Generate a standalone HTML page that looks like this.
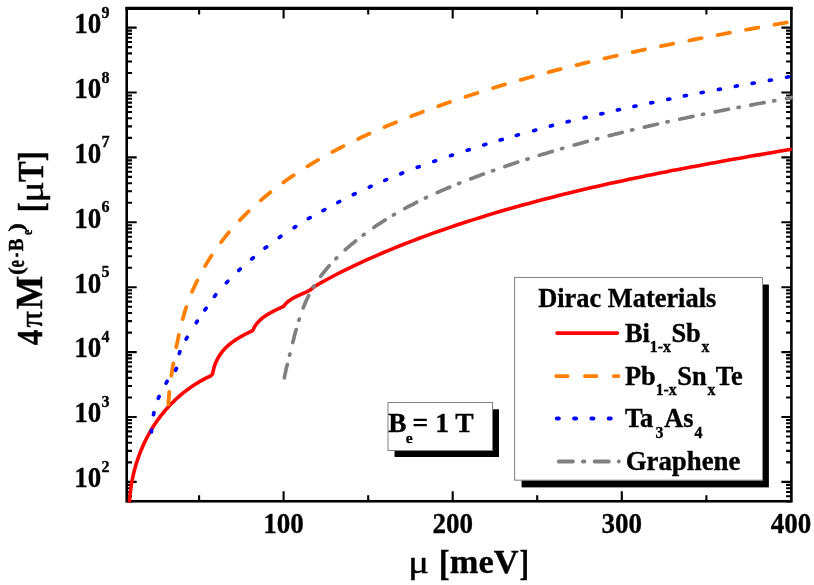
<!DOCTYPE html>
<html><head><meta charset="utf-8"><title>Dirac Materials magnetization</title>
<style>
html,body{margin:0;padding:0;background:#fff;}
body{width:814px;height:585px;overflow:hidden;font-family:"Liberation Serif",serif;}
svg{display:block;}
text{font-family:"Liberation Serif",serif;font-weight:bold;fill:#000;stroke:#000;stroke-width:0.35px;}
.tk{font-size:29.4px;}
.sup{font-size:16.7px;}
.lg{font-size:26.4px;}
.sb{font-size:15.8px;}
.ax{font-size:34px;}
.mu{font-weight:normal;}
</style></head><body>
<svg width="814" height="585" viewBox="0 0 814 585">
<rect width="814" height="585" fill="#fff"/>
<g opacity="0.999">
<!-- frame -->
<rect x="126.7" y="8.5" width="664.6999999999999" height="492.75" fill="none" stroke="#000" stroke-width="2.6"/>
<rect x="125.4" y="6.75" width="667.3" height="3.2" fill="#000"/>
<path d="M126.7 481.9L136.7 481.9 M791.4 481.9L781.4 481.9 M126.7 417.0L136.7 417.0 M791.4 417.0L781.4 417.0 M126.7 352.1L136.7 352.1 M791.4 352.1L781.4 352.1 M126.7 287.2L136.7 287.2 M791.4 287.2L781.4 287.2 M126.7 222.3L136.7 222.3 M791.4 222.3L781.4 222.3 M126.7 157.4L136.7 157.4 M791.4 157.4L781.4 157.4 M126.7 92.5L136.7 92.5 M791.4 92.5L781.4 92.5 M126.7 27.6L136.7 27.6 M791.4 27.6L781.4 27.6 M126.7 501.4L132.0 501.4 M791.4 501.4L786.1 501.4 M126.7 496.3L132.0 496.3 M791.4 496.3L786.1 496.3 M126.7 492.0L132.0 492.0 M791.4 492.0L786.1 492.0 M126.7 488.2L132.0 488.2 M791.4 488.2L786.1 488.2 M126.7 484.9L132.0 484.9 M791.4 484.9L786.1 484.9 M126.7 462.4L132.0 462.4 M791.4 462.4L786.1 462.4 M126.7 450.9L132.0 450.9 M791.4 450.9L786.1 450.9 M126.7 442.8L132.0 442.8 M791.4 442.8L786.1 442.8 M126.7 436.5L132.0 436.5 M791.4 436.5L786.1 436.5 M126.7 431.4L132.0 431.4 M791.4 431.4L786.1 431.4 M126.7 427.1L132.0 427.1 M791.4 427.1L786.1 427.1 M126.7 423.3L132.0 423.3 M791.4 423.3L786.1 423.3 M126.7 420.0L132.0 420.0 M791.4 420.0L786.1 420.0 M126.7 397.5L132.0 397.5 M791.4 397.5L786.1 397.5 M126.7 386.0L132.0 386.0 M791.4 386.0L786.1 386.0 M126.7 377.9L132.0 377.9 M791.4 377.9L786.1 377.9 M126.7 371.6L132.0 371.6 M791.4 371.6L786.1 371.6 M126.7 366.5L132.0 366.5 M791.4 366.5L786.1 366.5 M126.7 362.2L132.0 362.2 M791.4 362.2L786.1 362.2 M126.7 358.4L132.0 358.4 M791.4 358.4L786.1 358.4 M126.7 355.1L132.0 355.1 M791.4 355.1L786.1 355.1 M126.7 332.6L132.0 332.6 M791.4 332.6L786.1 332.6 M126.7 321.1L132.0 321.1 M791.4 321.1L786.1 321.1 M126.7 313.0L132.0 313.0 M791.4 313.0L786.1 313.0 M126.7 306.7L132.0 306.7 M791.4 306.7L786.1 306.7 M126.7 301.6L132.0 301.6 M791.4 301.6L786.1 301.6 M126.7 297.3L132.0 297.3 M791.4 297.3L786.1 297.3 M126.7 293.5L132.0 293.5 M791.4 293.5L786.1 293.5 M126.7 290.2L132.0 290.2 M791.4 290.2L786.1 290.2 M126.7 267.7L132.0 267.7 M791.4 267.7L786.1 267.7 M126.7 256.2L132.0 256.2 M791.4 256.2L786.1 256.2 M126.7 248.1L132.0 248.1 M791.4 248.1L786.1 248.1 M126.7 241.8L132.0 241.8 M791.4 241.8L786.1 241.8 M126.7 236.7L132.0 236.7 M791.4 236.7L786.1 236.7 M126.7 232.4L132.0 232.4 M791.4 232.4L786.1 232.4 M126.7 228.6L132.0 228.6 M791.4 228.6L786.1 228.6 M126.7 225.3L132.0 225.3 M791.4 225.3L786.1 225.3 M126.7 202.8L132.0 202.8 M791.4 202.8L786.1 202.8 M126.7 191.3L132.0 191.3 M791.4 191.3L786.1 191.3 M126.7 183.2L132.0 183.2 M791.4 183.2L786.1 183.2 M126.7 176.9L132.0 176.9 M791.4 176.9L786.1 176.9 M126.7 171.8L132.0 171.8 M791.4 171.8L786.1 171.8 M126.7 167.5L132.0 167.5 M791.4 167.5L786.1 167.5 M126.7 163.7L132.0 163.7 M791.4 163.7L786.1 163.7 M126.7 160.4L132.0 160.4 M791.4 160.4L786.1 160.4 M126.7 137.9L132.0 137.9 M791.4 137.9L786.1 137.9 M126.7 126.4L132.0 126.4 M791.4 126.4L786.1 126.4 M126.7 118.3L132.0 118.3 M791.4 118.3L786.1 118.3 M126.7 112.0L132.0 112.0 M791.4 112.0L786.1 112.0 M126.7 106.9L132.0 106.9 M791.4 106.9L786.1 106.9 M126.7 102.6L132.0 102.6 M791.4 102.6L786.1 102.6 M126.7 98.8L132.0 98.8 M791.4 98.8L786.1 98.8 M126.7 95.5L132.0 95.5 M791.4 95.5L786.1 95.5 M126.7 73.0L132.0 73.0 M791.4 73.0L786.1 73.0 M126.7 61.5L132.0 61.5 M791.4 61.5L786.1 61.5 M126.7 53.4L132.0 53.4 M791.4 53.4L786.1 53.4 M126.7 47.1L132.0 47.1 M791.4 47.1L786.1 47.1 M126.7 42.0L132.0 42.0 M791.4 42.0L786.1 42.0 M126.7 37.7L132.0 37.7 M791.4 37.7L786.1 37.7 M126.7 33.9L132.0 33.9 M791.4 33.9L786.1 33.9 M126.7 30.6L132.0 30.6 M791.4 30.6L786.1 30.6 M126.7 8.1L132.0 8.1 M791.4 8.1L786.1 8.1 M283.6 501.2L283.6 491.2 M283.6 8.5L283.6 18.5 M452.7 501.2L452.7 491.2 M452.7 8.5L452.7 18.5 M621.8 501.2L621.8 491.2 M621.8 8.5L621.8 18.5 M199.1 501.2L199.1 495.3 M199.1 8.5L199.1 14.4 M368.2 501.2L368.2 495.3 M368.2 8.5L368.2 14.4 M537.2 501.2L537.2 495.3 M537.2 8.5L537.2 14.4 M706.4 501.2L706.4 495.3 M706.4 8.5L706.4 14.4" stroke="#000" stroke-width="2.1" fill="none"/>
<!-- curves -->
<g fill="none" stroke-linejoin="round">
<path d="M129.2 502.3 L129.6 500.4 L129.7 498.3 L129.9 496.3 L130.1 494.3 L130.3 492.3 L130.6 490.3 L130.8 488.2 L131.1 486.2 L131.4 484.2 L131.8 482.2 L132.2 480.2 L132.6 478.2 L133.0 476.2 L133.4 474.3 L133.9 472.3 L134.4 470.3 L134.9 468.4 L135.5 466.4 L136.0 464.5 L136.6 462.5 L137.3 460.6 L137.9 458.7 L138.6 456.8 L139.3 454.9 L140.0 453.0 L140.7 451.1 L141.5 449.2 L142.3 447.4 L143.1 445.5 L143.9 443.7 L144.8 441.9 L145.7 440.0 L146.6 438.2 L147.5 436.5 L148.5 434.7 L149.5 432.9 L150.5 431.2 L151.5 429.4 L152.5 427.7 L153.6 426.0 L154.7 424.3 L155.8 422.7 L157.0 421.0 L158.1 419.4 L159.3 417.8 L160.5 416.2 L161.8 414.6 L163.0 413.0 L164.3 411.5 L165.6 409.9 L166.9 408.4 L168.3 406.9 L169.6 405.5 L171.0 404.0 L172.4 402.6 L173.9 401.2 L175.3 399.8 L176.8 398.4 L178.3 397.1 L179.8 395.7 L181.4 394.4 L182.9 393.1 L184.5 391.9 L186.1 390.7 L187.7 389.4 L189.4 388.3 L191.0 387.1 L192.7 385.9 L194.4 384.8 L196.1 383.7 L197.9 382.7 L199.6 381.6 L201.4 380.6 L203.2 379.6 L205.0 378.7 L206.9 377.7 L208.7 376.8 L210.6 376.0 L212.0 374.6 L212.0 374.6 L212.5 374.0 L212.7 373.2 L212.8 372.4 L213.0 371.6 L213.2 370.7 L213.4 369.9 L213.6 369.2 L213.8 368.4 L214.0 367.6 L214.2 366.8 L214.5 366.0 L214.8 365.3 L215.0 364.5 L215.3 363.8 L215.6 363.0 L215.9 362.3 L216.2 361.6 L216.6 360.9 L216.9 360.1 L217.3 359.4 L217.6 358.7 L218.0 358.0 L218.4 357.4 L218.8 356.7 L219.2 356.0 L219.6 355.4 L220.0 354.7 L220.5 354.1 L220.9 353.4 L221.4 352.8 L221.9 352.2 L222.3 351.5 L222.8 350.9 L223.3 350.3 L223.9 349.8 L224.4 349.2 L224.9 348.6 L225.5 348.0 L226.0 347.5 L226.6 346.9 L227.2 346.4 L227.8 345.9 L228.3 345.3 L228.9 344.8 L229.6 344.3 L230.2 343.8 L230.8 343.3 L231.4 342.8 L232.1 342.3 L232.7 341.9 L233.4 341.4 L234.0 340.9 L234.7 340.5 L235.3 340.0 L236.0 339.6 L236.7 339.1 L237.4 338.7 L238.1 338.3 L238.8 337.9 L239.5 337.5 L240.2 337.0 L240.9 336.6 L241.6 336.2 L242.3 335.8 L243.0 335.5 L243.7 335.1 L244.4 334.7 L245.1 334.3 L245.8 333.9 L246.5 333.6 L247.2 333.2 L248.0 332.9 L248.7 332.5 L249.4 332.2 L250.1 331.8 L250.8 331.5 L251.5 331.1 L252.2 330.8 L252.9 330.4 L252.9 330.4 L253.0 329.9 L253.3 329.4 L253.5 329.0 L253.7 328.5 L253.9 328.0 L254.2 327.6 L254.4 327.1 L254.7 326.7 L254.9 326.3 L255.2 325.8 L255.5 325.4 L255.8 325.0 L256.1 324.6 L256.4 324.2 L256.7 323.8 L257.0 323.4 L257.3 323.0 L257.6 322.6 L257.9 322.3 L258.3 321.9 L258.6 321.5 L259.0 321.2 L259.3 320.8 L259.7 320.5 L260.0 320.1 L260.4 319.8 L260.8 319.4 L261.1 319.1 L261.5 318.8 L261.9 318.4 L262.3 318.1 L262.7 317.8 L263.1 317.5 L263.5 317.2 L263.9 316.9 L264.3 316.6 L264.7 316.3 L265.2 316.0 L265.6 315.7 L266.0 315.5 L266.4 315.2 L266.9 314.9 L267.3 314.6 L267.7 314.4 L268.2 314.1 L268.6 313.8 L269.1 313.6 L269.5 313.3 L270.0 313.1 L270.4 312.8 L270.9 312.6 L271.3 312.3 L271.8 312.1 L272.2 311.8 L272.7 311.6 L273.1 311.4 L273.6 311.1 L274.0 310.9 L274.5 310.7 L275.0 310.4 L275.4 310.2 L275.9 310.0 L276.3 309.8 L276.8 309.5 L277.3 309.3 L277.7 309.1 L278.2 308.9 L278.6 308.7 L279.1 308.5 L279.5 308.3 L280.0 308.1 L280.5 307.8 L280.9 307.6 L281.4 307.4 L281.8 307.2 L282.3 307.0 L282.7 306.8 L283.1 306.6 L283.6 306.4 L283.6 306.4 L283.8 306.1 L284.0 305.7 L284.3 305.4 L284.5 305.1 L284.8 304.8 L285.1 304.5 L285.3 304.2 L285.6 303.9 L285.9 303.6 L286.1 303.3 L286.4 303.1 L286.7 302.8 L287.0 302.5 L287.3 302.3 L287.6 302.0 L287.9 301.8 L288.2 301.5 L288.5 301.3 L288.8 301.0 L289.1 300.8 L289.4 300.6 L289.7 300.3 L290.1 300.1 L290.4 299.9 L290.7 299.7 L291.0 299.5 L291.4 299.2 L291.7 299.0 L292.0 298.8 L292.4 298.6 L292.7 298.4 L293.0 298.2 L293.4 298.0 L293.7 297.9 L294.1 297.7 L294.4 297.5 L294.8 297.3 L295.1 297.1 L295.5 296.9 L295.8 296.8 L296.2 296.6 L296.6 296.4 L296.9 296.2 L297.3 296.1 L297.6 295.9 L298.0 295.7 L298.4 295.6 L298.7 295.4 L299.1 295.2 L299.4 295.1 L299.8 294.9 L300.2 294.7 L300.5 294.6 L300.9 294.4 L301.3 294.2 L301.6 294.1 L302.0 293.9 L302.4 293.8 L302.7 293.6 L303.1 293.4 L303.4 293.3 L303.8 293.1 L304.2 292.9 L304.5 292.8 L304.9 292.6 L305.2 292.5 L305.6 292.3 L306.0 292.1 L306.3 292.0 L306.7 291.8 L307.0 291.6 L307.4 291.4 L307.7 291.3 L308.1 291.1 L308.4 290.9 L308.8 290.7 L309.1 290.6 L309.5 290.4 L309.8 290.2 L309.8 290.2 L314.9 286.3 L320.4 283.1 L326.0 280.0 L331.6 277.0 L337.2 274.0 L342.9 271.2 L348.6 268.3 L354.4 265.6 L360.2 262.9 L366.0 260.2 L371.8 257.6 L377.6 255.1 L383.5 252.5 L389.4 250.1 L395.3 247.6 L401.3 245.3 L407.2 242.9 L413.2 240.6 L419.2 238.3 L425.2 236.1 L431.2 233.9 L437.2 231.8 L443.2 229.7 L449.3 227.6 L455.3 225.5 L461.4 223.5 L467.5 221.5 L473.6 219.6 L479.7 217.7 L485.8 215.8 L491.9 213.9 L498.0 212.1 L504.1 210.3 L510.3 208.5 L516.4 206.8 L522.6 205.1 L528.7 203.4 L534.9 201.7 L541.1 200.1 L547.3 198.5 L553.4 196.9 L559.6 195.3 L565.8 193.8 L572.1 192.3 L578.3 190.8 L584.5 189.3 L590.7 187.8 L596.9 186.4 L603.2 185.0 L609.4 183.6 L615.7 182.2 L621.9 180.9 L628.2 179.5 L634.4 178.2 L640.7 176.9 L647.0 175.6 L653.2 174.4 L659.5 173.1 L665.8 171.9 L672.0 170.6 L678.3 169.4 L684.6 168.2 L690.9 167.0 L697.2 165.9 L703.5 164.7 L709.7 163.5 L716.0 162.4 L722.3 161.2 L728.6 160.1 L734.9 159.0 L741.2 157.9 L747.5 156.8 L753.8 155.6 L760.1 154.6 L766.4 153.5 L772.7 152.4 L779.0 151.3 L785.3 150.2 L791.6 149.3" stroke="#ff0000" stroke-width="3.6" stroke-linecap="butt"/>
<path d="M168.4 406.0 L168.4 404.0 L168.5 402.0 L168.6 400.0 L168.8 398.0 L169.0 396.0 L169.1 394.0 L169.3 392.0 L169.5 390.0 L169.8 388.0 L170.0 386.1 L170.2 384.1 L170.5 382.1 L170.7 380.1 L171.0 378.1 L171.3 376.2 L171.6 374.2 L171.9 372.2 L172.2 370.3 L172.5 368.3 L172.8 366.3 L173.2 364.4 L173.5 362.4 L173.8 360.4 L174.2 358.5 L174.6 356.5 L174.9 354.5 L175.3 352.6 L175.7 350.6 L176.0 348.6 L176.4 346.7 L176.8 344.7 L177.2 342.8 L177.6 340.8 L178.0 338.8 L178.4 336.9 L178.9 334.9 L179.3 333.0 L179.7 331.0 L180.2 329.1 L180.6 327.1 L181.1 325.2 L181.6 323.3 L182.1 321.3 L182.6 319.4 L183.1 317.5 L183.7 315.6 L184.2 313.6 L184.8 311.7 L185.4 309.8 L186.0 307.9 L186.7 306.0 L187.3 304.2 L188.0 302.3 L188.7 300.4 L189.4 298.5 L190.1 296.7 L190.8 294.8 L191.6 293.0 L192.4 291.1 L193.1 289.3 L194.0 287.5 L194.8 285.7 L195.6 283.9 L196.5 282.1 L197.4 280.3 L198.3 278.5 L199.2 276.7 L200.1 274.9 L201.0 273.2 L202.0 271.4 L203.0 269.7 L204.0 267.9 L205.0 266.2 L206.0 264.5 L207.0 262.8 L208.1 261.1 L209.1 259.4 L210.2 257.7 L211.3 256.0 L212.4 254.3 L213.5 252.7 L214.6 251.0 L215.8 249.4 L216.9 247.8 L218.1 246.1 L219.3 244.5 L220.5 242.9 L221.7 241.3 L222.9 239.7 L224.2 238.2 L225.4 236.6 L226.7 235.1 L227.9 233.5 L229.2 232.0 L230.5 230.5 L231.8 229.0 L233.1 227.5 L234.5 226.0 L235.8 224.5 L237.2 223.0 L238.5 221.6 L239.9 220.1 L241.3 218.7 L242.7 217.3 L244.1 215.8 L245.5 214.4 L246.9 213.0 L248.3 211.6 L249.8 210.3 L251.2 208.9 L252.7 207.5 L254.1 206.2 L255.6 204.8 L257.1 203.5 L258.6 202.2 L260.1 200.9 L261.6 199.6 L263.1 198.3 L264.7 197.0 L266.2 195.7 L267.7 194.5 L269.3 193.2 L270.9 191.9 L272.4 190.7 L274.0 189.5 L275.6 188.3 L277.2 187.0 L278.8 185.8 L280.4 184.6 L282.0 183.5 L283.6 182.3 L285.3 181.1 L286.9 179.9 L288.5 178.8 L290.2 177.6 L291.8 176.5 L293.5 175.4 L295.2 174.3 L296.9 173.1 L298.5 172.0 L300.2 170.9 L301.9 169.9 L303.6 168.8 L305.3 167.7 L307.0 166.6 L308.7 165.6 L310.4 164.5 L312.2 163.5 L313.9 162.4 L315.6 161.4 L317.4 160.4 L319.1 159.4 L320.8 158.4 L322.6 157.4 L324.3 156.4 L326.1 155.4 L327.9 154.4 L329.6 153.5 L331.4 152.5 L333.2 151.5 L334.9 150.6 L336.7 149.7 L338.5 148.7 L340.3 147.8 L342.1 146.9 L343.9 145.9 L345.7 145.0 L347.4 144.1 L349.2 143.2 L351.0 142.4 L352.8 141.5 L354.7 140.6 L356.5 139.7 L358.3 138.9 L360.1 138.0 L361.9 137.1 L363.7 136.3 L365.5 135.5 L367.3 134.6 L369.2 133.8 L371.0 133.0 L372.8 132.1 L374.7 131.3 L376.5 130.5 L378.3 129.7 L380.2 128.9 L382.0 128.1 L383.8 127.3 L385.7 126.6 L387.5 125.8 L389.4 125.0 L391.2 124.2 L393.1 123.5 L394.9 122.7 L396.8 122.0 L398.6 121.2 L400.5 120.5 L402.3 119.7 L404.2 119.0 L406.0 118.2 L407.9 117.5 L409.8 116.8 L411.6 116.1 L413.5 115.3 L415.4 114.6 L417.2 113.9 L419.1 113.2 L421.0 112.5 L422.8 111.8 L424.7 111.1 L426.6 110.4 L428.5 109.7 L430.3 109.0 L432.2 108.3 L434.1 107.7 L436.0 107.0 L437.9 106.3 L439.7 105.6 L441.6 105.0 L443.5 104.3 L445.4 103.6 L447.3 103.0 L449.2 102.3 L451.1 101.7 L452.9 101.0 L454.8 100.4 L456.7 99.7 L458.6 99.1 L460.5 98.5 L462.4 97.8 L464.3 97.2 L466.2 96.6 L468.1 96.0 L470.0 95.3 L471.9 94.7 L473.8 94.1 L475.7 93.5 L477.6 92.9 L479.5 92.3 L481.4 91.7 L483.3 91.1 L485.2 90.5 L487.1 89.9 L489.1 89.3 L491.0 88.7 L492.9 88.1 L494.8 87.5 L496.7 86.9 L498.6 86.4 L500.5 85.8 L502.4 85.2 L504.4 84.6 L506.3 84.1 L508.2 83.5 L510.1 82.9 L512.0 82.4 L514.0 81.8 L515.9 81.3 L517.8 80.7 L519.7 80.2 L521.6 79.6 L523.6 79.1 L525.5 78.5 L527.4 78.0 L529.3 77.5 L531.3 76.9 L533.2 76.4 L535.1 75.9 L537.1 75.3 L539.0 74.8 L540.9 74.3 L542.9 73.8 L544.8 73.3 L546.7 72.7 L548.7 72.2 L550.6 71.7 L552.5 71.2 L554.5 70.7 L556.4 70.2 L558.3 69.7 L560.3 69.2 L562.2 68.7 L564.2 68.2 L566.1 67.7 L568.0 67.2 L570.0 66.7 L571.9 66.3 L573.9 65.8 L575.8 65.3 L577.7 64.8 L579.7 64.3 L581.6 63.9 L583.6 63.4 L585.5 62.9 L587.5 62.4 L589.4 62.0 L591.4 61.5 L593.3 61.0 L595.3 60.6 L597.2 60.1 L599.2 59.7 L601.1 59.2 L603.1 58.8 L605.0 58.3 L607.0 57.9 L608.9 57.4 L610.9 57.0 L612.8 56.5 L614.8 56.1 L616.7 55.6 L618.7 55.2 L620.6 54.8 L622.6 54.3 L624.6 53.9 L626.5 53.5 L628.5 53.0 L630.4 52.6 L632.4 52.2 L634.3 51.8 L636.3 51.3 L638.3 50.9 L640.2 50.5 L642.2 50.1 L644.1 49.7 L646.1 49.2 L648.0 48.8 L650.0 48.4 L652.0 48.0 L653.9 47.6 L655.9 47.2 L657.9 46.8 L659.8 46.4 L661.8 46.0 L663.7 45.6 L665.7 45.2 L667.7 44.8 L669.6 44.4 L671.6 44.0 L673.6 43.6 L675.5 43.2 L677.5 42.8 L679.4 42.4 L681.4 42.0 L683.4 41.6 L685.3 41.2 L687.3 40.8 L689.3 40.5 L691.2 40.1 L693.2 39.7 L695.2 39.3 L697.1 38.9 L699.1 38.5 L701.1 38.2 L703.0 37.8 L705.0 37.4 L707.0 37.0 L708.9 36.7 L710.9 36.3 L712.8 35.9 L714.8 35.5 L716.8 35.2 L718.7 34.8 L720.7 34.4 L722.7 34.1 L724.6 33.7 L726.6 33.3 L728.6 33.0 L730.5 32.6 L732.5 32.2 L734.5 31.9 L736.4 31.5 L738.4 31.2 L740.4 30.8 L742.3 30.4 L744.3 30.1 L746.3 29.7 L748.2 29.4 L750.2 29.0 L752.2 28.7 L754.1 28.3 L756.1 27.9 L758.1 27.6 L760.0 27.2 L762.0 26.9 L764.0 26.5 L765.9 26.2 L767.9 25.8 L769.9 25.5 L771.8 25.1 L773.8 24.8 L775.7 24.4 L777.7 24.1 L779.7 23.7 L781.6 23.4 L783.6 23.1 L785.6 22.7 L787.5 22.4 L789.5 22.0 L791.5 21.5" stroke="#ff8000" stroke-width="3.8" stroke-linecap="round" stroke-dasharray="12.5 16.37" stroke-dashoffset="-1.6"/>
<path d="M151.4 432.0L151.6 430.0 M153.5 414.7L153.9 412.7 M158.3 398.3L159.1 396.5 M166.1 383.1L167.1 381.3 M175.6 370.3L176.4 368.5 M179.3 353.5L179.9 351.7 M186.1 339.1L187.1 337.3 M196.3 322.7L197.3 321.1 M204.9 309.9L206.1 308.3 M214.5 296.4L215.7 294.8 M226.4 282.7L227.8 281.3 M238.8 270.4L240.2 269.0 M251.7 259.0L253.3 257.8 M265.0 248.1L266.6 246.9 M279.3 237.5L280.9 236.3 M294.1 227.6L295.7 226.6 M308.4 218.6L310.2 217.6 M323.0 210.6L324.8 209.6 M337.8 202.5L339.6 201.5 M353.3 194.5L355.1 193.7 M369.3 187.1L371.1 186.3 M384.8 180.4L386.6 179.6 M400.8 173.8L402.6 173.0 M417.3 167.3L419.1 166.7 M433.8 161.4L435.6 160.8 M450.6 155.7L452.4 155.1 M467.2 150.3L469.2 149.7 M483.8 144.9L485.8 144.3 M500.2 140.1L502.2 139.5 M516.4 135.4L518.4 134.8 M533.7 130.7L535.7 130.1 M550.4 126.1L552.4 125.5 M567.2 121.8L569.2 121.4 M584.2 117.8L586.2 117.4 M600.9 113.9L602.9 113.5 M617.4 110.0L619.4 109.6 M634.0 106.4L636.0 106.0 M650.8 102.9L652.8 102.5 M667.8 99.4L669.8 99.0 M684.4 95.9L686.4 95.5 M701.2 92.7L703.2 92.3 M718.4 89.5L720.4 89.1 M735.4 86.3L737.4 85.9 M752.2 83.4L754.2 83.0 M769.4 80.4L771.4 80.0 M786.6 77.2L788.6 76.8" stroke="#0000ff" stroke-width="3.7" stroke-linecap="round"/>
<path d="M284.4 377.8 L284.5 376.2 L284.9 374.7 L285.2 373.2 L285.6 371.6 L285.9 370.1 L286.3 368.6 L286.6 367.1 L287.0 365.6 L287.4 364.1 L287.7 362.6 L288.1 361.1 L288.5 359.6 L288.9 358.1 L289.2 356.6 L289.6 355.1 L290.0 353.6 L290.4 352.1 L290.7 350.6 L291.1 349.1 L291.5 347.6 L291.9 346.1 L292.2 344.6 L292.6 343.1 L293.0 341.6 L293.4 340.1 L293.8 338.6 L294.1 337.1 L294.5 335.6 L294.9 334.1 L295.3 332.6 L295.7 331.1 L296.2 329.6 L296.6 328.1 L297.0 326.6 L297.4 325.1 L297.9 323.6 L298.3 322.1 L298.8 320.6 L299.3 319.1 L299.7 317.6 L300.2 316.2 L300.7 314.7 L301.3 313.2 L301.8 311.7 L302.3 310.3 L302.9 308.8 L303.4 307.3 L304.0 305.9 L304.6 304.4 L305.2 303.0 L305.8 301.6 L306.4 300.2 L307.1 298.8 L307.8 297.4 L308.4 296.0 L309.2 294.6 L309.9 293.2 L310.6 291.8 L311.4 290.5 L312.1 289.1 L312.9 287.8 L313.7 286.5 L314.5 285.2 L315.4 283.9 L316.2 282.6 L317.1 281.3 L318.0 280.0 L318.9 278.8 L319.8 277.5 L320.7 276.3 L321.6 275.0 L322.6 273.8 L323.5 272.6 L324.5 271.4 L325.5 270.2 L326.5 269.0 L327.5 267.8 L328.5 266.6 L329.5 265.4 L330.6 264.3 L331.6 263.1 L332.7 262.0 L333.8 260.9 L334.9 259.7 L336.0 258.6 L337.1 257.5 L338.2 256.4 L339.3 255.3 L340.4 254.2 L341.6 253.2 L342.7 252.1 L343.9 251.0 L345.0 250.0 L346.2 248.9 L347.4 247.9 L348.6 246.9 L349.8 245.9 L350.9 244.9 L352.1 243.8 L353.4 242.9 L354.6 241.9 L355.8 240.9 L357.0 239.9 L358.2 238.9 L359.5 238.0 L360.7 237.0 L361.9 236.1 L363.2 235.1 L364.4 234.2 L365.7 233.3 L366.9 232.4 L368.2 231.4 L369.5 230.5 L370.7 229.6 L372.0 228.7 L373.3 227.9 L374.6 227.0 L375.8 226.1 L377.1 225.2 L378.4 224.4 L379.7 223.5 L381.0 222.7 L382.3 221.8 L383.6 221.0 L384.9 220.2 L386.3 219.3 L387.6 218.5 L388.9 217.7 L390.2 216.9 L391.6 216.1 L392.9 215.3 L394.2 214.5 L395.6 213.7 L396.9 213.0 L398.3 212.2 L399.6 211.4 L401.0 210.7 L402.3 209.9 L403.7 209.2 L405.0 208.4 L406.4 207.7 L407.8 206.9 L409.1 206.2 L410.5 205.5 L411.9 204.8 L413.3 204.1 L414.6 203.3 L416.0 202.6 L417.4 201.9 L418.8 201.3 L420.2 200.6 L421.6 199.9 L423.0 199.2 L424.4 198.5 L425.8 197.8 L427.2 197.2 L428.6 196.5 L430.0 195.9 L431.4 195.2 L432.8 194.6 L434.3 193.9 L435.7 193.3 L437.1 192.6 L438.5 192.0 L439.9 191.4 L441.4 190.7 L442.8 190.1 L444.2 189.5 L445.7 188.9 L447.1 188.3 L448.5 187.7 L450.0 187.1 L451.4 186.5 L452.9 185.9 L454.3 185.3 L455.7 184.7 L457.2 184.1 L458.6 183.5 L460.1 182.9 L461.5 182.4 L463.0 181.8 L464.4 181.2 L465.9 180.7 L467.4 180.1 L468.8 179.5 L470.3 179.0 L471.7 178.4 L473.2 177.9 L474.7 177.3 L476.1 176.8 L477.6 176.2 L479.1 175.7 L480.5 175.1 L482.0 174.6 L483.5 174.1 L484.9 173.5 L486.4 173.0 L487.9 172.5 L489.3 172.0 L490.8 171.4 L492.3 170.9 L493.7 170.4 L495.2 169.9 L496.7 169.4 L498.2 168.8 L499.6 168.3 L501.1 167.8 L502.6 167.3 L504.1 166.8 L505.5 166.3 L507.0 165.8 L508.5 165.3 L510.0 164.8 L511.5 164.3 L512.9 163.8 L514.4 163.3 L515.9 162.8 L517.4 162.3 L518.9 161.9 L520.3 161.4 L521.8 160.9 L523.3 160.4 L524.8 159.9 L526.3 159.5 L527.8 159.0 L529.2 158.5 L530.7 158.0 L532.2 157.6 L533.7 157.1 L535.2 156.6 L536.7 156.2 L538.2 155.7 L539.7 155.2 L541.1 154.8 L542.6 154.3 L544.1 153.9 L545.6 153.4 L547.1 153.0 L548.6 152.5 L550.1 152.1 L551.6 151.6 L553.1 151.2 L554.6 150.7 L556.1 150.3 L557.6 149.9 L559.0 149.4 L560.5 149.0 L562.0 148.5 L563.5 148.1 L565.0 147.7 L566.5 147.2 L568.0 146.8 L569.5 146.4 L571.0 146.0 L572.5 145.5 L574.0 145.1 L575.5 144.7 L577.0 144.3 L578.5 143.9 L580.0 143.5 L581.5 143.0 L583.0 142.6 L584.5 142.2 L586.0 141.8 L587.5 141.4 L589.0 141.0 L590.5 140.6 L592.0 140.2 L593.5 139.8 L595.0 139.4 L596.5 139.0 L598.0 138.6 L599.5 138.2 L601.1 137.8 L602.6 137.4 L604.1 137.0 L605.6 136.6 L607.1 136.2 L608.6 135.8 L610.1 135.5 L611.6 135.1 L613.1 134.7 L614.6 134.3 L616.1 133.9 L617.6 133.6 L619.2 133.2 L620.7 132.8 L622.2 132.4 L623.7 132.1 L625.2 131.7 L626.7 131.3 L628.2 130.9 L629.7 130.6 L631.2 130.2 L632.8 129.8 L634.3 129.5 L635.8 129.1 L637.3 128.8 L638.8 128.4 L640.3 128.0 L641.8 127.7 L643.4 127.3 L644.9 127.0 L646.4 126.6 L647.9 126.3 L649.4 125.9 L650.9 125.6 L652.5 125.2 L654.0 124.9 L655.5 124.5 L657.0 124.2 L658.5 123.8 L660.1 123.5 L661.6 123.2 L663.1 122.8 L664.6 122.5 L666.1 122.1 L667.7 121.8 L669.2 121.5 L670.7 121.1 L672.2 120.8 L673.7 120.5 L675.3 120.1 L676.8 119.8 L678.3 119.5 L679.8 119.2 L681.3 118.8 L682.9 118.5 L684.4 118.2 L685.9 117.9 L687.4 117.5 L689.0 117.2 L690.5 116.9 L692.0 116.6 L693.5 116.3 L695.1 115.9 L696.6 115.6 L698.1 115.3 L699.6 115.0 L701.2 114.7 L702.7 114.4 L704.2 114.1 L705.8 113.7 L707.3 113.4 L708.8 113.1 L710.3 112.8 L711.9 112.5 L713.4 112.2 L714.9 111.9 L716.4 111.6 L718.0 111.3 L719.5 111.0 L721.0 110.7 L722.6 110.4 L724.1 110.1 L725.6 109.8 L727.2 109.5 L728.7 109.2 L730.2 108.9 L731.7 108.6 L733.3 108.3 L734.8 108.0 L736.3 107.7 L737.9 107.5 L739.4 107.2 L740.9 106.9 L742.5 106.6 L744.0 106.3 L745.5 106.0 L747.1 105.7 L748.6 105.4 L750.1 105.2 L751.7 104.9 L753.2 104.6 L754.7 104.3 L756.3 104.0 L757.8 103.7 L759.3 103.5 L760.9 103.2 L762.4 102.9 L763.9 102.6 L765.5 102.4 L767.0 102.1 L768.5 101.8 L770.1 101.5 L771.6 101.3 L773.1 101.0 L774.7 100.7 L776.2 100.4 L777.8 100.2 L779.3 99.9 L780.8 99.6 L782.4 99.3 L783.9 99.1 L785.4 98.8 L787.0 98.5 L788.5 98.3 L790.0 98.0 L791.5 97.5" stroke="#808080" stroke-width="3.7" stroke-linecap="round" stroke-dasharray="13.5 9.7 1.2 11.86"/>
</g>
<!-- tick labels -->
<text transform="translate(101.3,487.2) scale(0.92,1)" text-anchor="end" class="tk">10</text><text transform="translate(101.5,471.9) scale(0.96,1)" class="sup">2</text>
<text transform="translate(101.3,422.3) scale(0.92,1)" text-anchor="end" class="tk">10</text><text transform="translate(101.5,407.0) scale(0.96,1)" class="sup">3</text>
<text transform="translate(101.3,357.4) scale(0.92,1)" text-anchor="end" class="tk">10</text><text transform="translate(101.5,342.1) scale(0.96,1)" class="sup">4</text>
<text transform="translate(101.3,292.5) scale(0.92,1)" text-anchor="end" class="tk">10</text><text transform="translate(101.5,277.2) scale(0.96,1)" class="sup">5</text>
<text transform="translate(101.3,227.6) scale(0.92,1)" text-anchor="end" class="tk">10</text><text transform="translate(101.5,212.3) scale(0.96,1)" class="sup">6</text>
<text transform="translate(101.3,162.7) scale(0.92,1)" text-anchor="end" class="tk">10</text><text transform="translate(101.5,147.4) scale(0.96,1)" class="sup">7</text>
<text transform="translate(101.3,97.8) scale(0.92,1)" text-anchor="end" class="tk">10</text><text transform="translate(101.5,82.5) scale(0.96,1)" class="sup">8</text>
<text transform="translate(101.3,32.9) scale(0.92,1)" text-anchor="end" class="tk">10</text><text transform="translate(101.5,17.6) scale(0.96,1)" class="sup">9</text>
<text transform="translate(283.6,533.4) scale(0.92,1)" text-anchor="middle" class="tk">100</text>
<text transform="translate(452.7,533.4) scale(0.92,1)" text-anchor="middle" class="tk">200</text>
<text transform="translate(621.8,533.4) scale(0.92,1)" text-anchor="middle" class="tk">300</text>
<text transform="translate(790.9,533.4) scale(0.92,1)" text-anchor="middle" class="tk">400</text>

<!-- axis labels -->
<text transform="translate(408.19,572.70) scale(1.241,1.000)" style="font-size:31.13px;font-weight:normal;stroke:#000;stroke-width:0.4px">μ</text><text transform="translate(438.87,575.02) scale(0.999,1.120)" style="font-size:32.80px;font-weight:bold;">[</text><text transform="translate(449.75,572.60) scale(1.050,1.000)" style="font-size:32.80px;font-weight:bold;">meV</text><text transform="translate(519.52,575.02) scale(0.869,1.120)" style="font-size:32.80px;font-weight:bold;">]</text>
<g transform="translate(0,346) rotate(-90)"><text transform="translate(0.70,41.80) scale(0.870,1.000)" style="font-size:35.86px;font-weight:bold;">4</text><text transform="translate(18.40,41.80) scale(1.034,1.000)" style="font-size:31.34px;font-weight:normal;stroke:#000;stroke-width:0.5px">π</text><text transform="translate(36.63,42.00) scale(0.959,1.000)" style="font-size:37.04px;font-weight:bold;">M</text><text transform="translate(71.07,22.80) scale(1.129,1.000)" style="font-size:20.80px;font-weight:bold;">(</text><text transform="translate(78.48,23.59) scale(0.763,1.165)" style="font-size:21.80px;font-weight:bold;">e</text><text transform="translate(88.68,23.30) scale(0.557,1.000)" style="font-size:24.30px;font-weight:bold;">-</text><text transform="translate(94.79,23.30) scale(0.881,1.000)" style="font-size:21.80px;font-weight:bold;">B</text><text transform="translate(110.93,31.70) scale(0.884,1.000)" style="font-size:13.60px;font-weight:bold;">e</text><text transform="translate(114.18,22.80) scale(1.265,1.000)" style="font-size:20.80px;font-weight:bold;">)</text><text transform="translate(133.73,43.40) scale(0.832,1.000)" style="font-size:36.30px;font-weight:bold;">[</text><text transform="translate(143.41,42.70) scale(1.160,1.000)" style="font-size:34.12px;font-weight:normal;stroke:#000;stroke-width:0.4px">μ</text><text transform="translate(164.00,42.70) scale(0.879,1.000)" style="font-size:35.21px;font-weight:bold;">T</text><text transform="translate(184.66,43.40) scale(0.832,1.000)" style="font-size:36.30px;font-weight:bold;">]</text></g>
<!-- Be box -->
<rect x="394.5" y="409.3" width="104.5" height="47.7" fill="#000"/>
<rect x="388" y="402.5" width="104.5" height="48" fill="#fff" stroke="#808080" stroke-width="1"/>
<text x="388.3" y="432" style="font-size:27.3px">B</text><text x="405.8" y="442.6" style="font-size:15.5px">e</text><text x="412.6" y="432" style="font-size:27.5px">= 1 T</text>
<!-- legend -->
<rect x="521.6" y="284.5" width="247.3" height="202.9" fill="#000"/>
<rect x="514.6" y="277.5" width="247.9" height="202.7" fill="#fff" stroke="#8c8c8c" stroke-width="1.1"/>
<text x="538.2" y="307" class="lg">Dirac Materials</text>
<g fill="none" stroke-linecap="round" stroke-width="3.8">
<path d="M557 333.1H617.4" stroke="#ff0000" stroke-linecap="round" stroke-width="3.6"/>
<path d="M556.1 376.1H618.4" stroke="#ff8000" stroke-dasharray="11.6 17.2" stroke-width="3.7"/>
<path d="M556.8 418.6H615" stroke="#0000ff" stroke-dasharray="2 15.3" stroke-width="4"/>
<path d="M558.8 461.5H618.9" stroke="#808080" stroke-dasharray="14.1 10 1.4 10.4" stroke-width="3.9"/>
</g>
<text x="624.9" y="341.6" class="lg">Bi<tspan class="sb" dy="10.6">1-x</tspan><tspan dy="-10.6" dx="0.5">Sb</tspan><tspan class="sb" dy="10.6" dx="0.8">x</tspan></text>
<text x="624.9" y="384.7" class="lg">Pb<tspan class="sb" dy="10.4">1-x</tspan><tspan dy="-10.4" dx="0.5">Sn</tspan><tspan class="sb" dy="10.4" dx="0.8">x</tspan><tspan dy="-10.4" dx="0.5">Te</tspan></text>
<text x="624.9" y="427.1" class="lg">Ta<tspan class="sb" dy="10.4" dx="2.3">3</tspan><tspan dy="-10.4" dx="0.8">As</tspan><tspan class="sb" dy="10.4" dx="0.8">4</tspan></text>
<text x="625.7" y="469.7" class="lg" style="font-size:26.8px">Graphene</text>
</g>
</svg>
</body></html>
